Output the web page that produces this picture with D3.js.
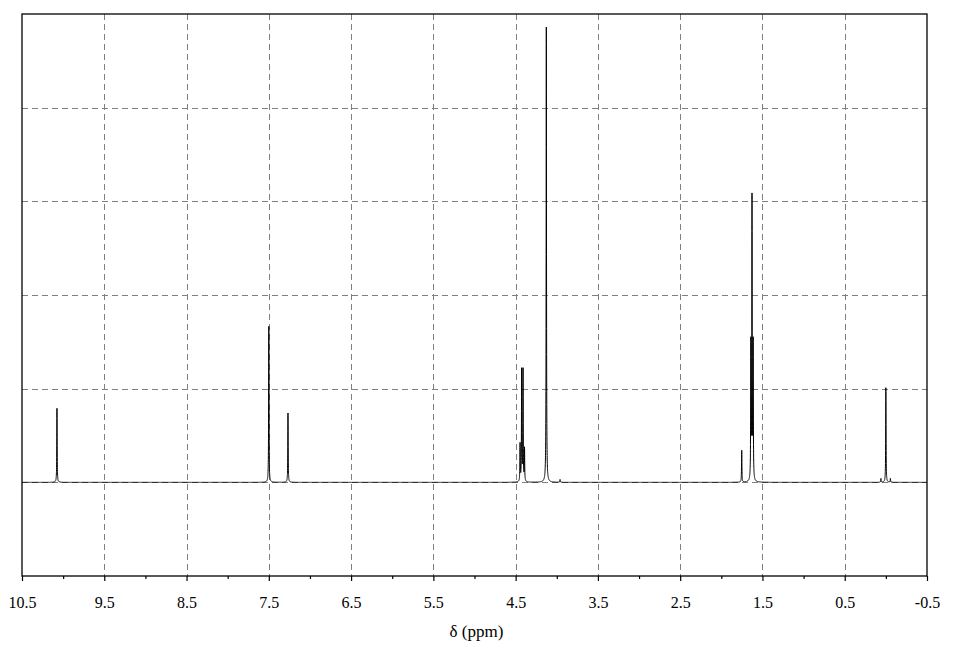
<!DOCTYPE html>
<html>
<head>
<meta charset="utf-8">
<script src="https://cdn.jsdelivr.net/npm/d3@7"></script>
<style>
  html, body { margin: 0; padding: 0; background: #fff; }
  svg { display: block; }
  text { font-family: "Liberation Serif", "Times New Roman", serif; fill: #000; }
</style>
</head>
<body>
<svg id="chart" width="961" height="650"></svg>
<script>
// ---- Data ----
const peakPositions = [10.075, 7.500, 7.267, 4.446, 4.427, 4.410, 4.392, 4.127, 3.960, 1.752, 1.641, 1.627, 1.613, 0.060, 0.000, -0.055];
const peakHeights   = [0.79,   1.665, 0.74,  0.40,  1.19,  1.19,  0.35,  4.86,  0.03,  0.34,  1.45,  3.00,  1.45,  0.04,  1.01,  0.04];
const majorTicks = [10.5, 9.5, 8.5, 7.5, 6.5, 5.5, 4.5, 3.5, 2.5, 1.5, 0.5, -0.5];
const tickLabels = ["10.5", "9.5", "8.5", "7.5", "6.5", "5.5", "4.5", "3.5", "2.5", "1.5", "0.5", "-0.5"];
const minorTicks = [10, 9, 8, 7, 6, 5, 4, 3, 2, 1, 0];
const yGridValues = [0, 1, 2, 3, 4];
const xTitle = "δ (ppm)";

// ---- Layout ----
const plotLeft = 22, plotRight = 927, plotTop = 14, plotBottom = 576;
const svg = d3.select("#chart");

const x = d3.scaleLinear().domain([10.5, -0.5]).range([plotLeft, plotRight]);
const y = d3.scaleLinear().domain([-1, 5]).range([plotBottom, plotTop]);

// Grid lines
const grid = svg.append("g").attr("stroke", "#808080").attr("stroke-width", 1).attr("stroke-dasharray", "6,4");
grid.selectAll("line.v").data(majorTicks.slice(1, -1)).join("line")
  .attr("class", "v")
  .attr("x1", d => Math.round(x(d)) + 0.5).attr("x2", d => Math.round(x(d)) + 0.5)
  .attr("y1", plotTop).attr("y2", plotBottom);
grid.selectAll("line.h").data(yGridValues).join("line")
  .attr("class", "h")
  .attr("x1", plotLeft).attr("x2", plotRight)
  .attr("y1", d => Math.round(y(d)) + 0.5).attr("y2", d => Math.round(y(d)) + 0.5);

// Spectrum: sum of narrow Lorentzian lines at the listed peaks
const hw = 0.0025;
const samples = [];
for (let i = 0; i <= 22000; i++) samples.push(10.5 - i * 0.0005);
peakPositions.forEach(p => samples.push(p));
samples.sort((a, b) => b - a);
const spectrum = samples.map(s => {
  let v = 0;
  for (let k = 0; k < peakPositions.length; k++) {
    const d = (s - peakPositions[k]) / hw;
    v += peakHeights[k] / (1 + d * d);
  }
  return [s, v];
});
svg.append("path")
  .datum(spectrum)
  .attr("fill", "none")
  .attr("stroke", "#000")
  .attr("stroke-width", 1)
  .attr("d", d3.line().x(d => x(d[0])).y(d => y(d[1])));

// Frame
svg.append("rect")
  .attr("x", plotLeft).attr("y", plotTop)
  .attr("width", plotRight - plotLeft).attr("height", plotBottom - plotTop)
  .attr("fill", "none").attr("stroke", "#000").attr("stroke-width", 1.3);

// Bottom axis
const axis = d3.axisBottom(x)
  .tickValues(majorTicks)
  .tickFormat((d, i) => tickLabels[i])
  .tickSize(5)
  .tickPadding(16);
const ax = svg.append("g").attr("transform", `translate(0,${plotBottom})`).call(axis);
ax.select(".domain").remove();
ax.selectAll(".tick line").attr("stroke", "#000").attr("stroke-width", 1.2);
ax.selectAll(".tick text")
  .style("font-family", "'Liberation Serif', 'Times New Roman', serif")
  .style("font-size", "16px").attr("fill", "#000");

const minorAxis = d3.axisBottom(x).tickValues(minorTicks).tickSize(3).tickFormat("");
const mx = svg.append("g").attr("transform", `translate(0,${plotBottom})`).call(minorAxis);
mx.select(".domain").remove();
mx.selectAll(".tick line").attr("stroke", "#000").attr("stroke-width", 1.2);

// Axis title
svg.append("text")
  .attr("x", (plotLeft + plotRight) / 2 + 2)
  .attr("y", 637)
  .attr("text-anchor", "middle")
  .style("font-size", "17px")
  .text(xTitle);
</script>
</body>
</html>
